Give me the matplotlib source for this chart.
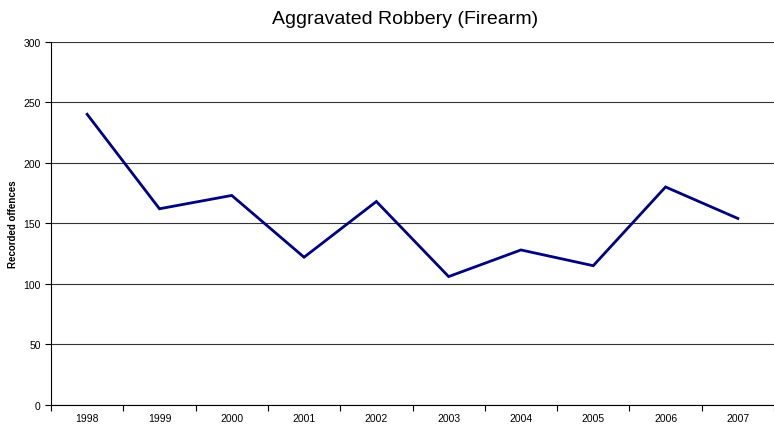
import matplotlib.pyplot as plt
import numpy as np

# Data
years = ["1998", "1999", "2000", "2001", "2002", "2003", "2004", "2005", "2006", "2007"]
offences = [240, 162, 173, 122, 168, 106, 128, 115, 180, 154]

plt.rcParams['font.family'] = ['Liberation Sans', 'DejaVu Sans']

fig = plt.figure(figsize=(7.74, 4.27), dpi=100)
ax = fig.add_axes([0.0659, 0.0492, 0.9341, 0.851])

x = np.arange(len(years))
ax.plot(x, offences, color="#000080", linewidth=2.0, solid_joinstyle="miter")

ax.set_xlim(-0.5, len(years) - 0.5)
ax.set_ylim(0, 300)
ax.set_yticks(range(0, 301, 50))
ax.yaxis.grid(True, color="#333333", linewidth=0.8)
ax.set_axisbelow(True)

# category labels centred, tick marks on boundaries
ax.set_xticks(x)
ax.set_xticklabels(years)
ax.tick_params(axis="x", which="major", length=0, labelsize=7.5, pad=6)
ax.set_xticks(np.arange(-0.5, len(years)), minor=True)
ax.tick_params(axis="x", which="minor", length=4, direction="out", width=0.8)
ax.tick_params(axis="y", length=4, labelsize=7.5, width=0.8)

for s in ["top", "right"]:
    ax.spines[s].set_visible(False)
ax.spines["left"].set_linewidth(0.8)
ax.spines["bottom"].set_linewidth(0.8)

ax.set_ylabel("Recorded offences", fontsize=7, fontweight="bold")
ax.yaxis.set_label_coords(-0.045, 0.5)
fig.suptitle("Aggravated Robbery (Firearm)", fontsize=14, x=0.523, y=0.975)

fig.savefig("out.png", dpi=100)
